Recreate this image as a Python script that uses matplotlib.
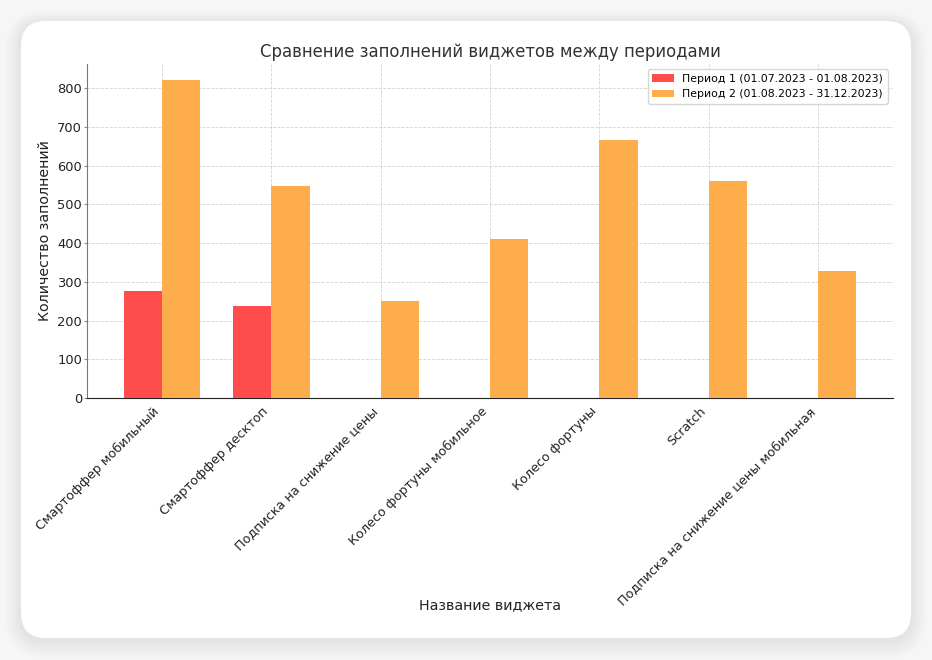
import matplotlib.pyplot as plt
import numpy as np
from matplotlib.patches import FancyBboxPatch

# Данные
widgets = ["Смартоффер мобильный", "Смартоффер десктоп", "Подписка на снижение цены",
           "Колесо фортуны мобильное", "Колесо фортуны", "Scratch",
           "Подписка на снижение цены мобильная"]
period1 = [275, 238, 0, 0, 0, 0, 0]
period2 = [821, 548, 250, 410, 666, 560, 328]
label1 = "Период 1 (01.07.2023 - 01.08.2023)"
label2 = "Период 2 (01.08.2023 - 31.12.2023)"

fig = plt.figure(figsize=(9.32, 6.6), dpi=100)
fig.patch.set_facecolor("#f6f6f6")

# карточка с мягкой тенью (в дюймах)
tr = fig.dpi_scale_trans
for i in range(6):
    d = 0.025 * (i + 1)
    fig.patches.append(FancyBboxPatch((0.21 - d, 0.20 - d * 1.2), 8.90 + 2 * d, 6.17 + 2 * d,
                                      boxstyle="round,pad=0,rounding_size=%.3f" % (0.25 + d),
                                      transform=tr, facecolor="black",
                                      edgecolor="none", alpha=0.012, zorder=-3))
fig.patches.append(FancyBboxPatch((0.21, 0.22), 8.90, 6.17,
                                  boxstyle="round,pad=0,rounding_size=0.25",
                                  transform=tr, facecolor="white",
                                  edgecolor="none", zorder=-2))

ax = fig.add_axes([87 / 932, 1 - 398 / 660, (893 - 87) / 932, (398 - 64) / 660])
ax.set_facecolor("none")

x = np.arange(len(widgets))
w = 0.35
ax.bar(x - w / 2, period1, w, color="#FF4C4C", label=label1, zorder=3)
ax.bar(x + w / 2, period2, w, color="#FDAD4C", label=label2, zorder=3)

ax.set_title("Сравнение заполнений виджетов между периодами", fontsize=11.9,
             color="#333333", pad=5)
ax.set_xlabel("Название виджета", fontsize=10.3, color="#222222")
ax.xaxis.set_label_coords(0.5, -0.60)
ax.set_ylabel("Количество заполнений", fontsize=10.3, color="#222222", labelpad=4)
ax.set_xticks(x)
ax.set_xticklabels(widgets, rotation=45, ha="right", fontsize=9.2, color="#222222")
ax.tick_params(axis="x", length=0, pad=5)
ax.tick_params(axis="y", labelsize=9.4, length=2.5, pad=1, color="#888888", labelcolor="#222222")
ax.grid(True, linestyle="--", color="#d4d4d4", linewidth=0.6, zorder=0)
ax.spines["top"].set_visible(False)
ax.spines["right"].set_visible(False)
ax.spines["left"].set_color("#777777")
ax.spines["bottom"].set_color("#222222")
ax.legend(fontsize=7.8, loc="upper right")

plt.savefig("out.png", dpi=100)
